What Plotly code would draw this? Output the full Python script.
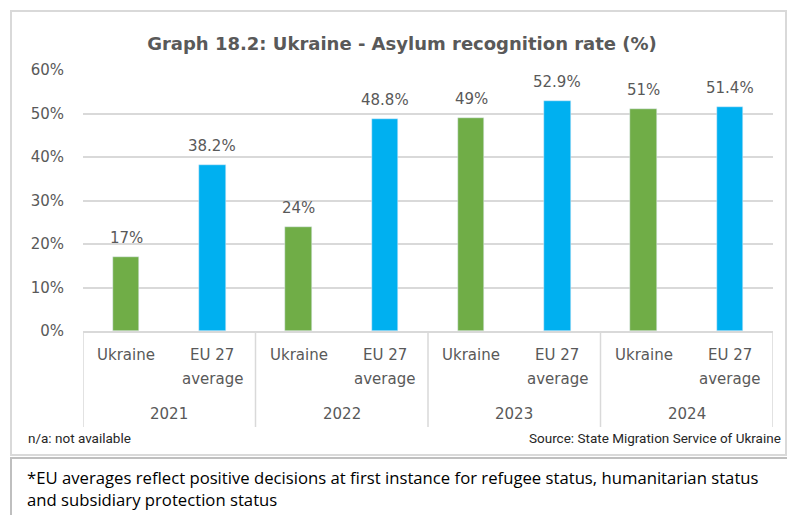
import plotly.graph_objects as go

years = ["2021", "2022", "2023", "2024"]
groups = ["Ukraine", "EU 27"]
group_sub = ["", "average"]
ukraine = [17, 24, 49, 51]
eu27 = [38.2, 48.8, 52.9, 51.4]
ukraine_labels = ["17%", "24%", "49%", "51%"]
eu27_labels = ["38.2%", "48.8%", "52.9%", "51.4%"]
y_ticks = [0, 10, 20, 30, 40, 50, 60]
y_ticktext = ["0%", "10%", "20%", "30%", "40%", "50%", "60%"]

GREEN = "#70AD47"
BLUE = "#00B0F0"
TXT = "#595959"
GRID = "#D9D9D9"
FONT = "DejaVu Sans"

# category keys: one per bar slot, in order year -> group
cats = [f"{y} {g}" for y in years for g in groups]
uk_x = [f"{y} {groups[0]}" for y in years]
eu_x = [f"{y} {groups[1]}" for y in years]

fig = go.Figure()
fig.add_trace(go.Bar(x=uk_x, y=ukraine, marker_color=GREEN, width=0.31,
                     hoverinfo="skip"))
fig.add_trace(go.Bar(x=eu_x, y=eu27, marker_color=BLUE, width=0.31,
                     hoverinfo="skip"))

# value labels placed above each bar
for xs, vals, labs in ((uk_x, ukraine, ukraine_labels), (eu_x, eu27, eu27_labels)):
    for xk, v, lab in zip(xs, vals, labs):
        fig.add_annotation(text=lab, x=xk, y=v, xref="x", yref="y",
                           xanchor="center", yanchor="middle", yshift=19,
                           showarrow=False, font=dict(family=FONT, size=15, color=TXT))

# layout geometry in pixels
W, H = 787, 515
L, R, T, B = 83, 14, 70, 184
pw, ph = W - L - R, H - T - B


def px(x):
    return (x - L) / pw


def py(y):
    return (H - B - y) / ph


fig.update_layout(
    width=W, height=H,
    margin=dict(l=L, r=R, t=T, b=B, autoexpand=False),
    paper_bgcolor="white", plot_bgcolor="white",
    showlegend=False, barmode="overlay", bargap=0,
    font=dict(family=FONT, color=TXT, size=15),
    title=dict(text="<b>Graph 18.2: Ukraine - Asylum recognition rate (%)</b>",
               x=px(402), xanchor="center", xref="paper",
               y=1 - 44 / H, yanchor="middle",
               font=dict(family=FONT, size=18, color=TXT)),
)
fig.update_yaxes(range=[0, 60], tickvals=y_ticks, ticktext=y_ticktext,
                 showgrid=True, gridcolor=GRID, gridwidth=1.5,
                 zeroline=False, showline=False, ticks="", automargin=False,
                 tickfont=dict(size=15, color=TXT, family=FONT),
                 ticklabelstandoff=18)
fig.update_xaxes(type="category", categoryorder="array", categoryarray=cats,
                 range=[-0.5, len(cats) - 0.5],
                 showline=True, linecolor=GRID, linewidth=1.5,
                 showgrid=False, showticklabels=False, ticks="", automargin=False)

# category labels and group dividers
for i, y in enumerate(years):
    for j, g in enumerate(groups):
        key = f"{y} {g}"
        fig.add_annotation(text=g, xref="x", yref="paper", x=key, y=py(355),
                           xanchor="center", yanchor="middle", showarrow=False,
                           font=dict(family=FONT, size=15, color=TXT))
        if group_sub[j]:
            fig.add_annotation(text=group_sub[j], xref="x", yref="paper", x=key, y=py(379),
                               xanchor="center", yanchor="middle", showarrow=False,
                               font=dict(family=FONT, size=15, color=TXT))
    n = len(groups)
    fig.add_annotation(text=y, xref="x", yref="paper", x=i * n + (n - 1) / 2, y=py(414),
                       xanchor="center", yanchor="middle", showarrow=False,
                       font=dict(family=FONT, size=15, color=TXT))
for k in range(len(years) + 1):
    xb = k * len(groups) - 0.5
    fig.add_shape(type="line", xref="x", yref="paper", x0=xb, x1=xb,
                  y0=py(331), y1=py(427), line=dict(color=GRID, width=1.5))

# outer chart box and note box
fig.add_shape(type="rect", xref="paper", yref="paper",
              x0=px(11), x1=px(786), y0=py(455), y1=py(11),
              line=dict(color=GRID, width=2), layer="below")
fig.add_shape(type="rect", xref="paper", yref="paper",
              x0=px(11), x1=px(790), y0=py(520), y1=py(458),
              line=dict(color="#BFBFBF", width=2), layer="below")

fig.add_annotation(text="n/a: not available", xref="paper", yref="paper",
                   x=px(26), y=py(438), xanchor="left", yanchor="middle",
                   showarrow=False, font=dict(family="Roboto", size=13.5, color="#262626"))
fig.add_annotation(text="Source: State Migration Service of Ukraine", xref="paper", yref="paper",
                   x=px(783), y=py(438), xanchor="right", yanchor="middle",
                   showarrow=False, font=dict(family="Roboto", size=13.5, color="#262626"))
fig.add_annotation(text="*EU averages reflect positive decisions at first instance for refugee status, humanitarian status<br>and subsidiary protection status",
                   xref="paper", yref="paper", x=px(25), y=py(488), xanchor="left", yanchor="middle",
                   align="left", showarrow=False,
                   font=dict(family="Open Sans", size=16.7, color="#000000"))

fig.write_html("out.html", config={"displayModeBar": False},
               post_script="document.body.style.margin='0px';")
